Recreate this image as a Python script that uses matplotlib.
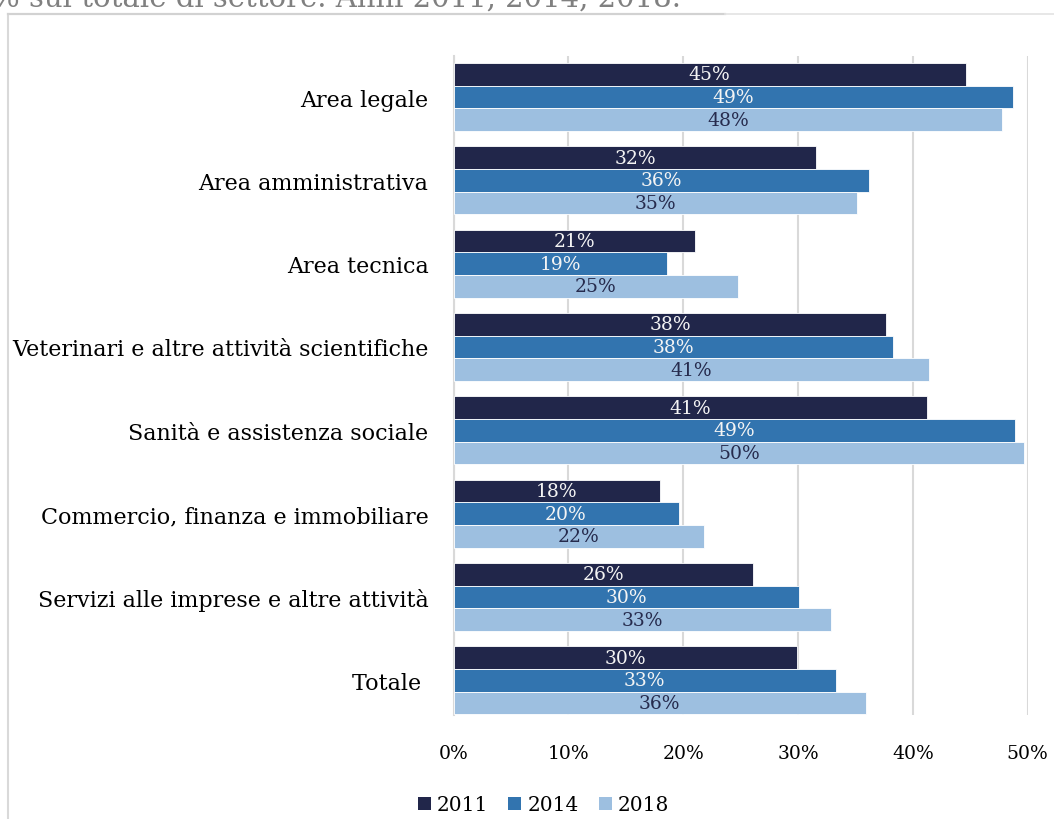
import matplotlib
matplotlib.use("Agg")
import matplotlib.pyplot as plt
from matplotlib.patches import Patch
from matplotlib.lines import Line2D
import numpy as np

plt.rcParams['font.family'] = ['DejaVu Serif']

categories = [
    "Area legale",
    "Area amministrativa",
    "Area tecnica",
    "Veterinari e altre attività scientifiche",
    "Sanità e assistenza sociale",
    "Commercio, finanza e immobiliare",
    "Servizi alle imprese e altre attività",
    "Totale ",
]
years = ["2011", "2014", "2018"]
v2011 = [44.6, 31.6, 21.0, 37.7, 41.2, 18.0, 26.1, 29.9]
v2014 = [48.75, 36.2, 18.6, 38.3, 48.9, 19.6, 30.1, 33.3]
v2018 = [47.8, 35.1, 24.8, 41.4, 49.7, 21.8, 32.9, 35.9]
x_ticks = [0, 10, 20, 30, 40, 50]
title_text = "% sul totale di settore. Anni 2011, 2014, 2018."

colors = ["#21264a", "#3274af", "#9dbfe0"]
label_colors = ["#f4f4f4", "#f4f4f4", "#262b4d"]

W, H = 1054, 820
fig = plt.figure(figsize=(W / 100, H / 100), dpi=100)

# outer frame of the chart area
fig.add_artist(Line2D([8 / W, 8 / W], [0, 1 - 15 / H], color="#d9d9d9", lw=1.5))
fig.add_artist(Line2D([8 / W, 725 / W], [1 - 15 / H, 1 - 15 / H], color="#d2d2d2", lw=1.6))
fig.add_artist(Line2D([725 / W, 1], [1 - 15 / H, 1 - 15 / H], color="#e3e3e3", lw=1.2))

fig.text(-8 / W, 1 - 7 / H, title_text, fontsize=21, color="#808080",
         ha="left", va="baseline")

ax = fig.add_axes([453.5 / W, 1 - 716 / H, (1027.7 - 453.5) / W, (716 - 57) / H])

n = len(categories)
y = np.arange(n)
bh = 0.272
series = [v2011, v2014, v2018]
for i, (vals, c, lc) in enumerate(zip(series, colors, label_colors)):
    pos = y + (i - 1) * bh
    bars = ax.barh(pos, vals, height=bh, color=c, edgecolor="white",
                   linewidth=0.6, zorder=3)
    for b, v in zip(bars, vals):
        ax.text(v / 2, b.get_y() + b.get_height() / 2, f"{v:.0f}%",
                ha="center", va="center", fontsize=13.5, color=lc, zorder=4)

ax.set_xlim(0, 50)
ax.set_ylim(7.418, -0.493)
ax.set_xticks(x_ticks)
ax.set_xticklabels([f"{t}%" for t in x_ticks], fontsize=13.5)
ax.set_yticks(y)
ax.set_yticklabels(categories, fontsize=16)
ax.tick_params(axis="both", length=0, colors="#000000")
ax.tick_params(axis="x", pad=21)
ax.tick_params(axis="y", pad=18)
ax.xaxis.grid(True, color="#d9d9d9", lw=1.5, zorder=0)
for s in ["top", "right", "bottom"]:
    ax.spines[s].set_visible(False)
ax.spines["left"].set_color("#d9d9d9")
ax.spines["left"].set_linewidth(1.5)

handles = [Patch(facecolor=c, edgecolor="none") for c in colors]
fig.legend(handles, years, loc="center", bbox_to_anchor=(543.5 / W, 1 - 806 / H),
           ncol=3, frameon=False, fontsize=14.5, handlelength=0.65,
           handleheight=0.65, handletextpad=0.3, columnspacing=1.0)

fig.savefig("out.png", dpi=100)
